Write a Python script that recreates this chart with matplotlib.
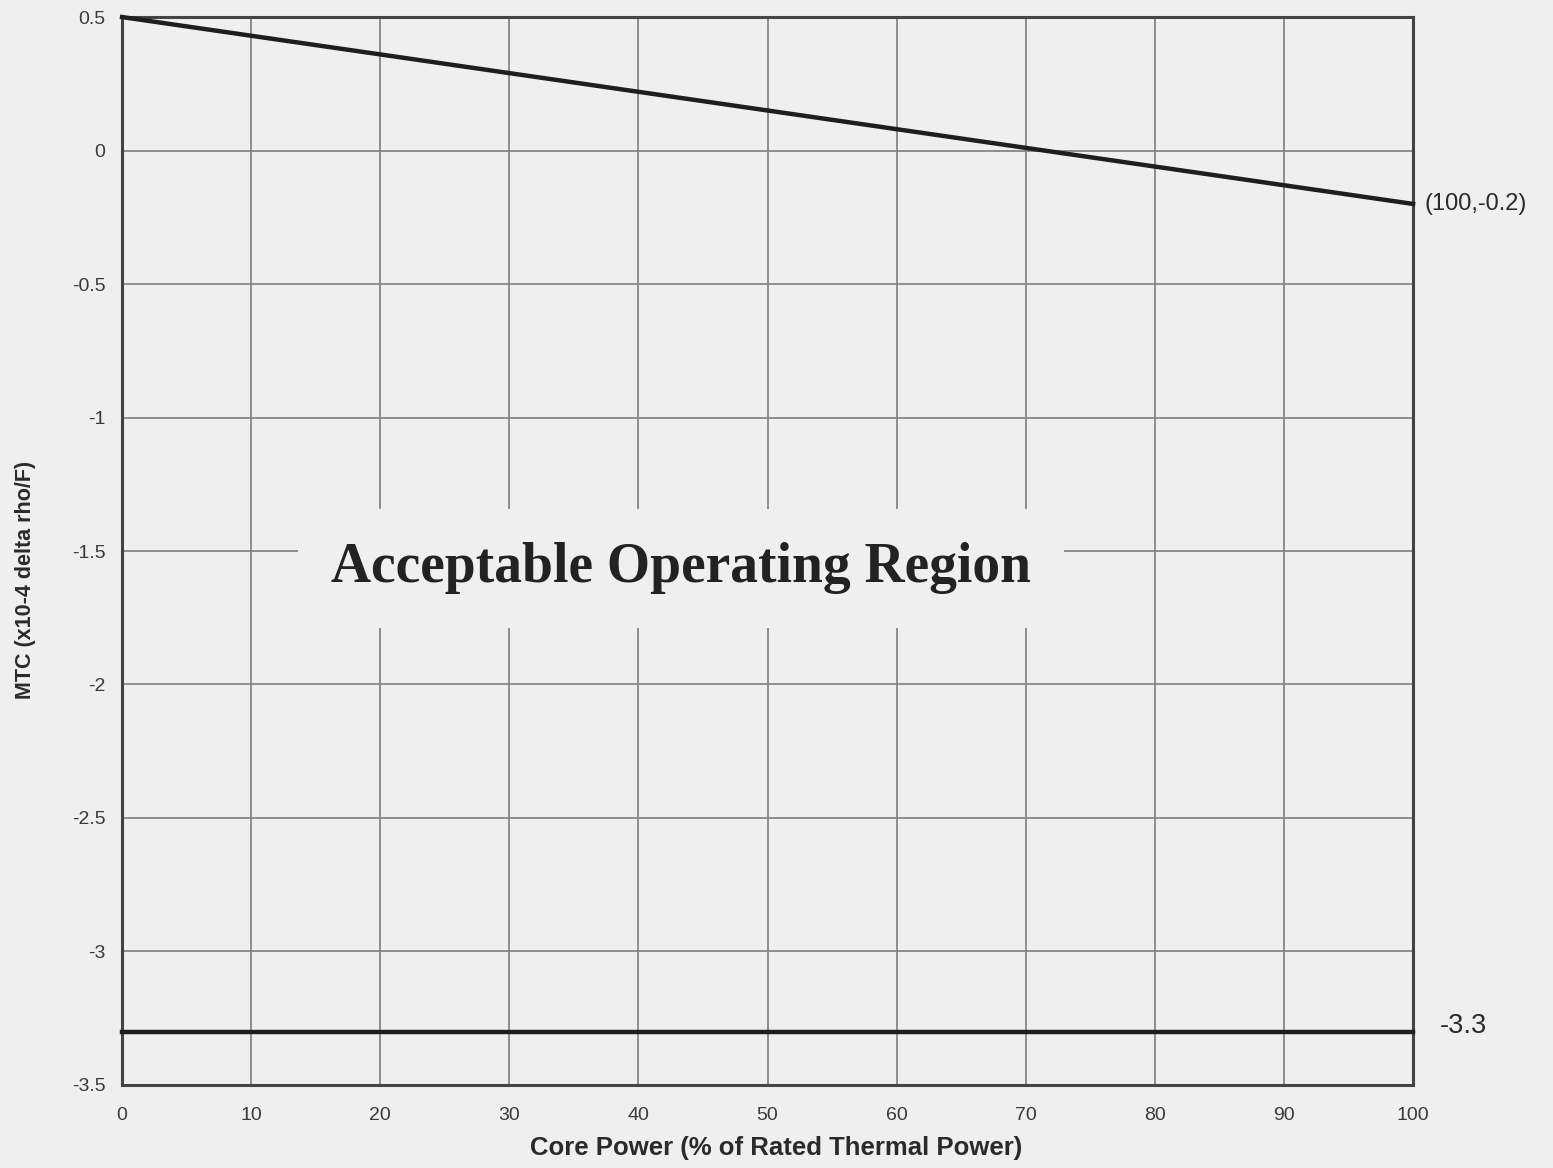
import matplotlib
matplotlib.use("Agg")
import matplotlib.pyplot as plt

plt.rcParams['axes.unicode_minus'] = False

# Data
power_limit = [0, 100]
mtc_upper = [0.5, -0.2]
mtc_lower = [-3.3, -3.3]
x_ticks = [0, 10, 20, 30, 40, 50, 60, 70, 80, 90, 100]
y_ticks = [0.5, 0, -0.5, -1, -1.5, -2, -2.5, -3, -3.5]
y_tick_labels = ["0.5", "0", "-0.5", "-1", "-1.5", "-2", "-2.5", "-3", "-3.5"]

bg = '#efefef'
fig = plt.figure(figsize=(15.53, 11.68), dpi=100, facecolor=bg)
ax = fig.add_axes([0.0786, 0.0711, 0.8313, 0.9143])
ax.set_facecolor(bg)

ax.set_xlim(0, 100)
ax.set_ylim(-3.5, 0.5)
ax.set_xticks(x_ticks)
ax.set_xticklabels([str(t) for t in x_ticks])
ax.set_yticks(y_ticks)
ax.set_yticklabels(y_tick_labels)
ax.grid(True, color='#858585', linewidth=1.3)
ax.set_axisbelow(True)
for s in ax.spines.values():
    s.set_color('#444444')
    s.set_linewidth(2.2)
ax.tick_params(axis='both', length=0, labelsize=14, labelcolor='#3a3a3a')
ax.tick_params(axis='x', pad=16)
ax.tick_params(axis='y', pad=12)
for lab in ax.get_xticklabels() + ax.get_yticklabels():
    lab.set_family(['Liberation Sans', 'DejaVu Sans'])

ax.plot(power_limit, mtc_upper, color='#1e1e1e', linewidth=3.2, clip_on=False, zorder=5)
ax.plot(power_limit, mtc_lower, color='#1e1e1e', linewidth=3.2, clip_on=False, zorder=5)

ax.annotate("(100,-0.2)", xy=(power_limit[1], mtc_upper[1]), xytext=(8, 0),
            textcoords='offset points', ha='left', va='center', fontsize=17,
            color='#2a2a2a', family=['Liberation Sans', 'DejaVu Sans'],
            annotation_clip=False)
ax.annotate("-3.3", xy=(power_limit[1], mtc_lower[1]), xytext=(19, 4),
            textcoords='offset points', ha='left', va='center', fontsize=19.5,
            color='#2a2a2a', family=['Liberation Sans', 'DejaVu Sans'],
            annotation_clip=False)

ax.text(43.3, -1.565, "Acceptable Operating Region", ha='center', va='center',
        fontsize=40, fontweight='bold', color='#222222',
        family=['Liberation Serif', 'DejaVu Serif'], zorder=4,
        bbox=dict(boxstyle='square,pad=0.6', facecolor=bg, edgecolor='none'))

ax.set_xlabel("Core Power (% of Rated Thermal Power)", fontsize=18.5, fontweight='bold',
              color='#2a2a2a', family=['Liberation Sans', 'DejaVu Sans'])
ax.xaxis.set_label_coords(0.507, -0.048)
ax.set_ylabel("MTC (x10-4 delta rho/F)", fontsize=15.5, fontweight='bold',
              color='#2a2a2a', family=['Liberation Sans', 'DejaVu Sans'])
ax.yaxis.set_label_coords(-0.067, 0.473)

fig.savefig("out.png", dpi=100, facecolor=bg)
